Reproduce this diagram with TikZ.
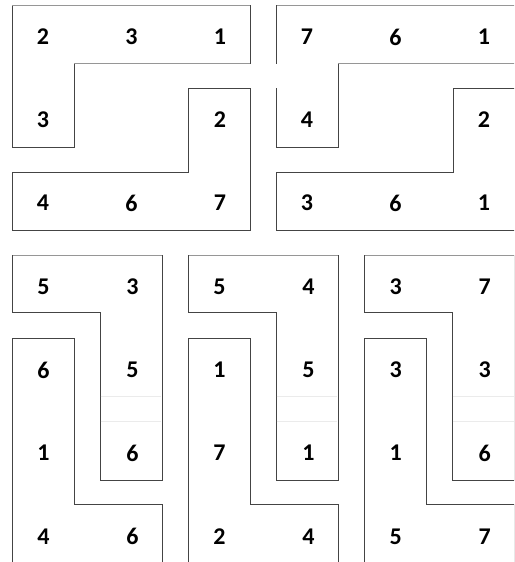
\documentclass[tikz,border=0pt]{standalone}
\usepackage{fontspec}
\setmainfont{Carlito}[BoldFont={Carlito Bold}]
\usepackage{tikz}
\usetikzlibrary{positioning}

\definecolor{edgegray}{RGB}{68,68,68}
\definecolor{lidgray}{RGB}{150,150,150}
\definecolor{seamgray}{RGB}{235,235,235}

\tikzset{
  rim/.style={draw=edgegray, line width=0.9pt},
  lid/.style={draw=lidgray, line width=0.9pt},
  seam/.style={draw=seamgray, line width=0.8pt},
  num/.style={font=\fontsize{24}{24}\selectfont\bfseries, inner sep=0pt}
}

\begin{document}
\begin{tikzpicture}[x=1pt, y=-1pt]
  \useasboundingbox (0,0) rectangle (514,562);
  \clip (0,0) rectangle (514,562);

  % Top left panel
  \begin{scope}
    \draw[rim] (74,63.5) -- (74,147) -- (12,147) -- (12,5);
    \draw[lid] (12,5) -- (250,5);
    \draw[rim] (250,5) -- (250,63.5);
    \draw[lid] (250,63.5) -- (74,63.5);
    \draw[rim] (12,172) -- (188,172) -- (188,88) -- (250,88) -- (250,230) -- (12,230) -- cycle;
    % Draw the numbers
    \foreach \v [count=\i] in {2,3,1} \node[num] (ta-1-\i) at ({43+88.5*(\i-1)},37) {\v};
    \node[num] (ta-2-1) at (43,120) {3};
    \node[num] (ta-2-3) at (220,120) {2};
    \foreach \v [count=\i] in {4,6,7} \node[num] (ta-3-\i) at ({43+88.5*(\i-1)},203) {\v};
  \end{scope}

  % Top right panel
  \begin{scope}
    \draw[lid] (520,5) -- (276,5);
    \draw[rim] (276,5) -- (276,63.5);
    \draw[lid] (520,63.5) -- (338,63.5);
    \draw[rim] (338,63.5) -- (338,147) -- (276,147) -- (276,88);
    \draw[rim] (520,88) -- (453,88) -- (453,172) -- (276,172) -- (276,230) -- (520,230);
    % Draw the numbers
    \foreach \v [count=\i] in {7,6,1} \node[num] (tb-1-\i) at ({307+88.5*(\i-1)},37) {\v};
    \node[num] (tb-2-1) at (307,120) {4};
    \node[num] (tb-2-3) at (484,120) {2};
    \foreach \v [count=\i] in {3,6,1} \node[num] (tb-3-\i) at ({307+88.5*(\i-1)},203) {\v};
  \end{scope}

  % Bottom panels
  \foreach \p/\a/\b/\c/\d/\e/\f/\g/\h [count=\k] in
      {12/5/3/6/5/1/6/4/6, 188/5/4/1/5/7/1/2/4, 364.3/3/7/3/3/1/6/5/7} {
    \begin{scope}[xshift=\p pt]
      \draw[lid] (0,255) -- (150,255);
      \draw[rim] (150,255) -- (150,480) -- (88,480) -- (88,312.7) -- (0,312.7) -- (0,255);
      \draw[rim] (0,570) -- (0,338.3) -- (62,338.3) -- (62,504.3) -- (150,504.3) -- (150,570);
      \draw[seam] (88.6,396.7) -- (149.4,396.7);
      \draw[seam] (88.6,421) -- (149.4,421);
      % Draw the numbers
      \node[num] (b\k-1-1) at (31.5,286.7) {\a};
      \node[num] (b\k-1-2) at (120.5,286.7) {\b};
      \node[num] (b\k-2-1) at (31.5,370) {\c};
      \node[num] (b\k-2-2) at (120.5,370) {\d};
      \node[num] (b\k-3-1) at (31.5,453) {\e};
      \node[num] (b\k-3-2) at (120.5,453) {\f};
      \node[num] (b\k-4-1) at (31.5,536.7) {\g};
      \node[num] (b\k-4-2) at (120.5,536.7) {\h};
    \end{scope}
  }
\end{tikzpicture}
\end{document}
